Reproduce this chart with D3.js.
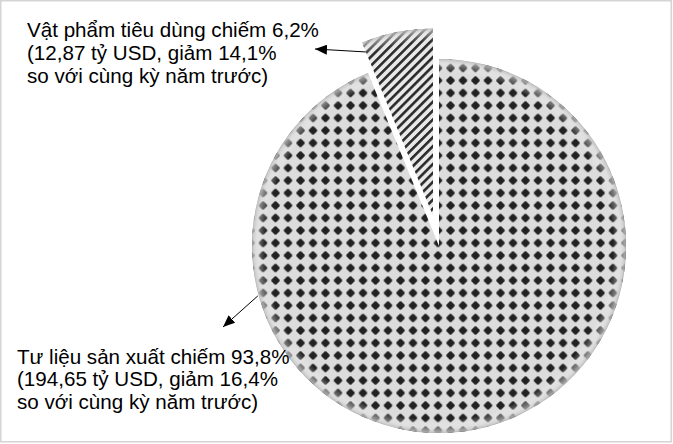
<!DOCTYPE html>
<html><head><meta charset="utf-8">
<script src="https://cdn.jsdelivr.net/npm/d3@7"></script>
<style>html,body{margin:0;padding:0;background:#fff;}svg{display:block;}</style>
</head><body>
<script>
const categories = ["Tư liệu sản xuất", "Vật phẩm tiêu dùng"];
const shares = [93.8, 6.2];
const labelLines = [
  ["Tư liệu sản xuất chiếm 93,8%", "(194,65 tỷ USD, giảm 16,4%", "so với cùng kỳ năm trước)"],
  ["Vật phẩm tiêu dùng chiếm 6,2%", "(12,87 tỷ USD, giảm 14,1%", "so với cùng kỳ năm trước)"]
];

const W = 673, H = 444;
const cx = 439, cy = 246, R = 187, explode = 31;

const svg = d3.select("body").append("svg").attr("width", W).attr("height", H);
const defs = svg.append("defs");

// dot pattern (large slice)
const P = 12.5;
const dp = defs.append("pattern").attr("id", "dots").attr("patternUnits", "userSpaceOnUse")
  .attr("width", P).attr("height", P).attr("x", 574 - P / 2).attr("y", 184.5 - P / 2);
dp.append("rect").attr("width", P).attr("height", P).attr("fill", "#dcdcdc");
const dg = dp.append("g").attr("transform", `translate(${P / 2},${P / 2})`).attr("fill", "#222");
const box = (w, h) => `M${-w},${-h} L${w},${-h} L${w},${h} L${-w},${h} Z`;
dg.append("path").attr("d", box(2.6, 2.6));
dg.append("path").attr("d", box(4.1, 1.1));
dg.append("path").attr("d", box(1.1, 4.1));
dg.append("path").attr("d", box(3.4, 1.8));
dg.append("path").attr("d", box(1.8, 3.4));

// stripe pattern (small slice)
const SP = 6.3;
const sp = defs.append("pattern").attr("id", "stripes").attr("patternUnits", "userSpaceOnUse")
  .attr("width", 10).attr("height", SP).attr("patternTransform", "rotate(-45)");
sp.append("rect").attr("width", 10).attr("height", SP).attr("fill", "#e8e8e8");
sp.append("rect").attr("width", 10).attr("height", 2.6).attr("fill", "#2b2b2b");

// bevel gradient (local coords of each slice group)
function bevel(id) {
  const g = defs.append("radialGradient").attr("id", id).attr("gradientUnits", "userSpaceOnUse")
    .attr("cx", 0).attr("cy", 0).attr("r", R);
  g.append("stop").attr("offset", 0.93).attr("stop-color", "#fff").attr("stop-opacity", 0);
  g.append("stop").attr("offset", 0.975).attr("stop-color", "#e4e4e4").attr("stop-opacity", 0.45);
  g.append("stop").attr("offset", 0.995).attr("stop-color", "#c4c4c4").attr("stop-opacity", 0.8);
  g.append("stop").attr("offset", 1).attr("stop-color", "#a8a8a8").attr("stop-opacity", 0.9);
}

// arrow marker
defs.append("marker").attr("id", "arr").attr("viewBox", "0 0 12 10").attr("refX", 12).attr("refY", 5)
  .attr("markerUnits", "userSpaceOnUse").attr("markerWidth", 12).attr("markerHeight", 10)
  .attr("orient", "auto")
  .append("path").attr("d", "M0,0 L12,5 L0,10 Z").attr("fill", "#000");

// frame
svg.append("rect").attr("x", 0.75).attr("y", 0.75).attr("width", 670.5).attr("height", 441)
  .attr("fill", "none").attr("stroke", "#d4d4d4").attr("stroke-width", 1.5);

const pie = d3.pie().sort(null).startAngle(0).endAngle(2 * Math.PI);
const arcs = pie(shares);
const arc = d3.arc().innerRadius(0).outerRadius(R);
const fills = ["url(#dots)", "url(#stripes)"];

arcs.forEach((a, i) => {
  const mid = (a.startAngle + a.endAngle) / 2;
  const off = i === 1 ? explode : 0;
  const ox = cx + off * Math.sin(mid), oy = cy - off * Math.cos(mid);
  bevel("bev" + i);
  const g = svg.append("g").attr("transform", `translate(${ox},${oy})`);
  g.append("path").attr("d", arc(a)).attr("fill", fills[i]);
  g.append("path").attr("d", arc(a)).attr("fill", `url(#bev${i})`);
  a.ox = ox; a.oy = oy;
});

// annotations
const smallA = arcs[1];
const sStart = [smallA.ox + 0.946 * R * Math.sin(smallA.startAngle), smallA.oy - 0.946 * R * Math.cos(smallA.startAngle)];
const bAng = 254.6 * Math.PI / 180;
const bStart = [cx + 1.005 * R * Math.sin(bAng), cy - 1.005 * R * Math.cos(bAng)];

svg.append("line").attr("x1", sStart[0]).attr("y1", sStart[1]).attr("x2", 315).attr("y2", 49)
  .attr("stroke", "#000").attr("stroke-width", 1).attr("marker-end", "url(#arr)");
svg.append("line").attr("x1", bStart[0]).attr("y1", bStart[1]).attr("x2", 223).attr("y2", 327)
  .attr("stroke", "#000").attr("stroke-width", 1).attr("marker-end", "url(#arr)");

const labelPos = [[17, 364, 22.3], [27, 37.3, 23]];
labelLines.forEach((lines, i) => {
  const t = svg.append("text").attr("font-family", "'Liberation Sans', Arial, sans-serif")
    .attr("font-size", 20.6).attr("fill", "#000");
  lines.forEach((s, j) => t.append("tspan").attr("x", labelPos[i][0]).attr("y", labelPos[i][1] + j * labelPos[i][2]).text(s));
});
</script>
</body></html>
